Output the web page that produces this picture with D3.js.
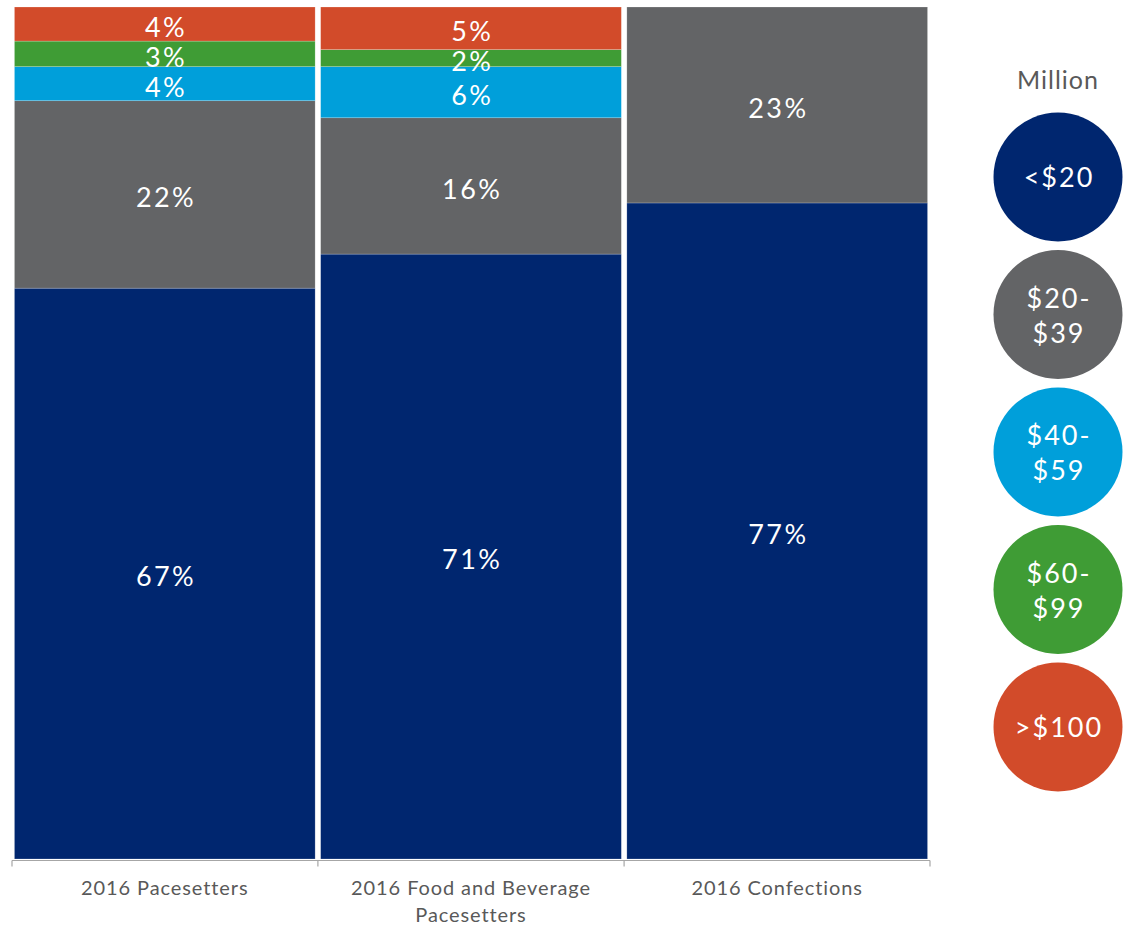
<!DOCTYPE html>
<html><head><meta charset="utf-8">
<script src="https://cdn.jsdelivr.net/npm/d3@7"></script>
<style>
html,body{margin:0;padding:0;background:#fff;}
svg{display:block;font-family:"Lato","Open Sans",sans-serif;}
</style></head>
<body><svg id="c" width="1128" height="926"></svg>
<script>
const categories = ["2016 Pacesetters", "2016 Food and Beverage|Pacesetters", "2016 Confections"];
const seriesNames = ["<$20", "$20-|$39", "$40-|$59", "$60-|$99", ">$100"];
const seriesKeys = ["s20", "s20_39", "s40_59", "s60_99", "s100"];
const s20    = [67, 71, 77];
const s20_39 = [22, 16, 23];
const s40_59 = [4, 6, 0];
const s60_99 = [3, 2, 0];
const s100   = [4, 5, 0];
const colors = ["#00266F", "#636466", "#009FDA", "#3F9C35", "#D24B2A"];
const legendTitle = "Million";

const values = {s20, s20_39, s40_59, s60_99, s100};
const rows = categories.map((c, i) => {
  const r = {cat: c};
  seriesKeys.forEach(k => r[k] = values[k][i]);
  return r;
});

const svg = d3.select("#c");
const x = d3.scaleBand().domain(categories).range([12, 930]).paddingInner(0.018).paddingOuter(0.008);
const y = d3.scaleLinear().domain([0, 100]).range([859, 7]);
const color = d3.scaleOrdinal().domain(seriesKeys).range(colors);

const stack = d3.stack().keys(seriesKeys)(rows);

const g = svg.append("g");
stack.forEach(layer => {
  const key = layer.key;
  layer.forEach(d => {
    const v = d[1] - d[0];
    if (v <= 0) return;
    g.append("rect")
      .attr("x", x(d.data.cat))
      .attr("width", x.bandwidth())
      .attr("y", y(d[1]))
      .attr("height", y(d[0]) - y(d[1]))
      .attr("fill", color(key))
      .attr("stroke", "rgba(255,255,255,0.35)")
      .attr("stroke-width", 0.6);
  });
});
stack.forEach(layer => {
  layer.forEach(d => {
    const v = d[1] - d[0];
    if (v <= 0) return;
    g.append("text")
      .attr("x", x(d.data.cat) + x.bandwidth() / 2 + 1.2)
      .attr("y", (y(d[0]) + y(d[1])) / 2 + 6)
      .attr("text-anchor", "middle")
      .attr("dominant-baseline", "middle")
      .attr("fill", "#fff")
      .attr("font-size", 27)
      .attr("letter-spacing", 2.4)
      .text(v + "%");
  });
});

// axis
const ax = svg.append("g").attr("transform", "translate(0,860.5)");
ax.append("line").attr("x1", 12).attr("x2", 930).attr("stroke", "#A6A6A6").attr("stroke-width", 1.2);
const tickPos = [12].concat(categories.map(c => x(c) + x.bandwidth() + x.step() * x.paddingInner() / 2));
tickPos[tickPos.length - 1] = 930;
tickPos.forEach(t => ax.append("line").attr("x1", t).attr("x2", t).attr("y1", 0).attr("y2", 6).attr("stroke", "#A6A6A6").attr("stroke-width", 1.2));

categories.forEach(c => {
  const lines = c.split("|");
  const t = svg.append("text")
    .attr("y", 895)
    .attr("text-anchor", "middle")
    .attr("fill", "#595959")
    .attr("font-size", 20)
    .attr("letter-spacing", 0.9);
  lines.forEach((l, i) => t.append("tspan").attr("x", x(c) + x.bandwidth() / 2).attr("dy", i === 0 ? 0 : 27).text(l));
});

// legend
svg.append("text").attr("x", 1058).attr("y", 89).attr("text-anchor", "middle")
  .attr("fill", "#595959").attr("font-size", 25).attr("letter-spacing", 1).text(legendTitle);
const ly = d3.scaleLinear().domain([0, seriesKeys.length - 1]).range([177, 727]);
seriesKeys.forEach((k, i) => {
  const cy = ly(i);
  svg.append("circle").attr("cx", 1058).attr("cy", cy).attr("r", 64.5).attr("fill", color(k));
  const lines = seriesNames[i].split("|");
  const t = svg.append("text").attr("text-anchor", "middle").attr("fill", "#fff").attr("font-size", 27).attr("letter-spacing", 2);
  const start = cy - (lines.length - 1) * 17 + 10;
  lines.forEach((l, j) => t.append("tspan").attr("x", 1059).attr("y", start + j * 35).text(l));
});
</script></body></html>
